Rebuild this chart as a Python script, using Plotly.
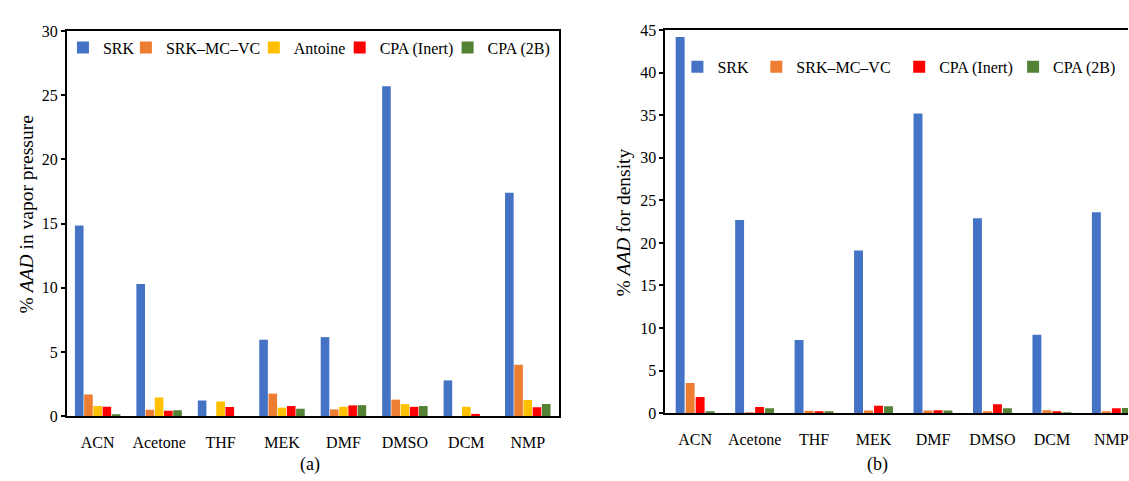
import plotly.graph_objects as go

categories = ["ACN", "Acetone", "THF", "MEK", "DMF", "DMSO", "DCM", "NMP"]

# (a) % AAD in vapor pressure
vp_srk = [14.85, 10.3, 1.22, 5.95, 6.15, 25.7, 2.78, 17.4]
vp_srk_mc_vc = [1.68, 0.5, 0.0, 1.75, 0.52, 1.28, 0.0, 4.0]
vp_antoine = [0.78, 1.45, 1.13, 0.65, 0.72, 0.93, 0.72, 1.25]
vp_cpa_inert = [0.72, 0.42, 0.70, 0.78, 0.83, 0.72, 0.17, 0.68]
vp_cpa_2b = [0.10, 0.45, 0.0, 0.57, 0.85, 0.78, 0.0, 0.93]

# (b) % AAD for density
d_srk = [44.2, 22.7, 8.6, 19.1, 35.2, 22.9, 9.2, 23.6]
d_srk_mc_vc = [3.55, 0.05, 0.27, 0.30, 0.30, 0.20, 0.35, 0.12]
d_cpa_inert = [1.9, 0.72, 0.13, 0.87, 0.35, 1.05, 0.20, 0.57]
d_cpa_2b = [0.12, 0.57, 0.20, 0.80, 0.30, 0.57, 0.03, 0.60]

C_SRK = "#4472C4"
C_MC = "#ED7D31"
C_ANT = "#FFC000"
C_INERT = "#FF0000"
C_2B = "#548235"

FONT = "Times New Roman, Liberation Serif, serif"
W, H = 1129, 481

fig = go.Figure()

# left panel: name, values, colour, legend box left edge (px)
left_series = [
    ("SRK", vp_srk, C_SRK, 63),
    ("SRK–MC–VC", vp_srk_mc_vc, C_MC, 126),
    ("Antoine", vp_antoine, C_ANT, 254),
    ("CPA (Inert)", vp_cpa_inert, C_INERT, 340),
    ("CPA (2B)", vp_cpa_2b, C_2B, 448),
]
right_series = [
    ("SRK", d_srk, C_SRK, 678),
    ("SRK–MC–VC", d_srk_mc_vc, C_MC, 757),
    ("CPA (Inert)", d_cpa_inert, C_INERT, 900),
    ("CPA (2B)", d_cpa_2b, C_2B, 1014),
]

legend_layouts = {}
k = 0
pitch_l, bw_l = 0.15, 0.14
n = len(left_series)
for i, (name, vals, col, lx) in enumerate(left_series):
    k += 1
    lg = "legend" if k == 1 else f"legend{k}"
    fig.add_trace(go.Bar(x=categories, y=vals, name=name, marker_color=col,
                         marker_line_width=0, xaxis="x", yaxis="y", legend=lg,
                         width=bw_l, offset=-n * pitch_l / 2 + i * pitch_l + (pitch_l - bw_l) / 2))
    legend_layouts[lg] = dict(x=lx / W, y=(H - 41) / H)

pitch_r, bw_r = 0.168, 0.15
n = len(right_series)
for i, (name, vals, col, lx) in enumerate(right_series):
    k += 1
    lg = f"legend{k}"
    fig.add_trace(go.Bar(x=categories, y=vals, name=name, marker_color=col,
                         marker_line_width=0, xaxis="x2", yaxis="y2", legend=lg,
                         width=bw_r, offset=-n * pitch_r / 2 + i * pitch_r + (pitch_r - bw_r) / 2))
    legend_layouts[lg] = dict(x=lx / W, y=(H - 61) / H)

for lg, pos in legend_layouts.items():
    fig.update_layout({lg: dict(orientation="h", x=pos["x"], y=pos["y"], xanchor="left",
                                yanchor="middle", font=dict(family=FONT, size=16, color="black"),
                                bgcolor="rgba(0,0,0,0)", itemwidth=30, borderwidth=0)})

axis_common = dict(showline=True, linecolor="black", linewidth=2, showgrid=False,
                   zeroline=False, tickfont=dict(family=FONT, size=16, color="black"))

fig.update_layout(
    width=W, height=H,
    showlegend=True,
    margin=dict(l=0, r=0, t=0, b=0),
    paper_bgcolor="white", plot_bgcolor="white",
    barmode="overlay",
    font=dict(family=FONT, size=16, color="black"),
    xaxis=dict(domain=[67 / W, 559 / W], anchor="y", mirror=True, ticks="",
               range=[-0.5, 7.5], ticklabelstandoff=11, **axis_common),
    yaxis=dict(domain=[(H - 423) / H, (H - 24) / H], anchor="x", mirror=True,
               range=[0, 30], dtick=5, ticks="outside", ticklen=4, tickcolor="black",
               tickwidth=1.5, **axis_common),
    xaxis2=dict(domain=[666 / W, 1.0], anchor="y2", mirror=True, ticks="",
                range=[-0.5, 7.28], ticklabelstandoff=11, **axis_common),
    yaxis2=dict(domain=[(H - 420) / H, (H - 23) / H], anchor="x2", mirror=False,
                range=[0, 45], dtick=5, ticks="outside", ticklen=4, tickcolor="black",
                tickwidth=1.5, **axis_common),
)

annotations = [
    dict(text="% <i>AAD</i> in vapor pressure", x=26 / W, y=(H - 214) / H, textangle=-90,
         xanchor="center", yanchor="middle",
         showarrow=False, xref="paper", yref="paper", font=dict(family=FONT, size=19.5)),
    dict(text="% <i>AAD</i> for density", x=624 / W, y=(H - 222) / H, textangle=-90,
         xanchor="center", yanchor="middle",
         showarrow=False, xref="paper", yref="paper", font=dict(family=FONT, size=19.5)),
    dict(text="(a)", x=310 / W, y=(H - 473) / H, showarrow=False, xref="paper", yref="paper",
         xanchor="center", yanchor="middle", font=dict(family=FONT, size=18)),
    dict(text="(b)", x=878 / W, y=(H - 473) / H, showarrow=False, xref="paper", yref="paper",
         xanchor="center", yanchor="middle", font=dict(family=FONT, size=18)),
]
fig.update_layout(annotations=annotations)

fig.write_html("out.html")
